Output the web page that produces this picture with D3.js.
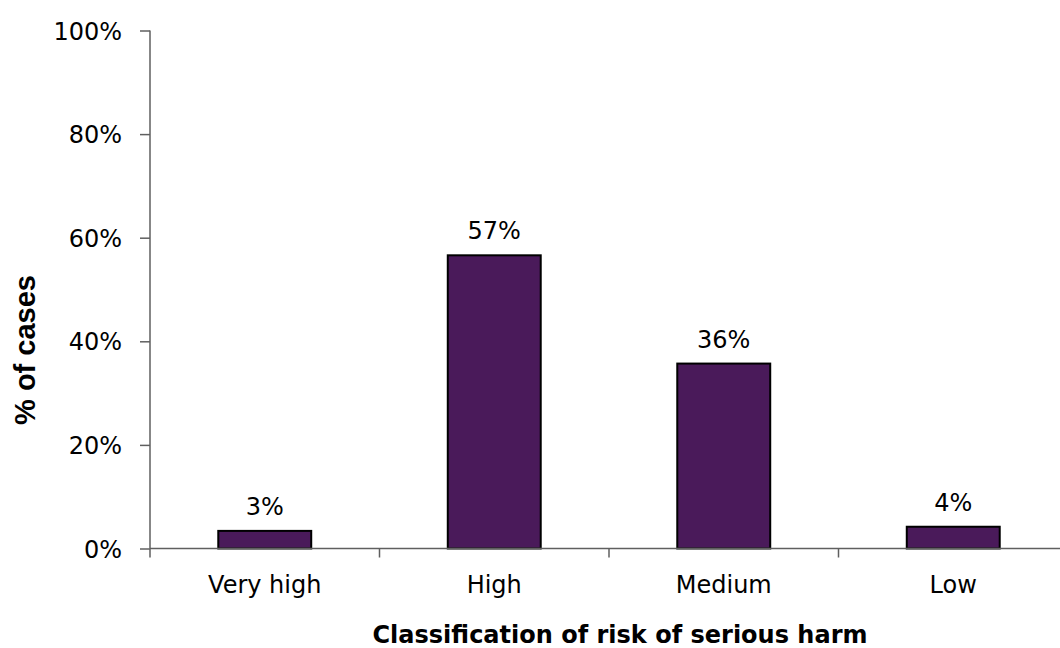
<!DOCTYPE html>
<html>
<head>
<meta charset="utf-8">
<script src="https://cdn.jsdelivr.net/npm/d3@7"></script>
<style>
  html, body { margin: 0; padding: 0; background: #fff; }
  svg { display: block; }
</style>
</head>
<body>
<svg id="chart" width="1060" height="648"></svg>
<script>
const categories = ["Very high", "High", "Medium", "Low"];
const values = [3.4, 56.6, 35.7, 4.2];
const valueLabels = ["3%", "57%", "36%", "4%"];
const yTicks = [0, 20, 40, 60, 80, 100];
const xTitle = "Classification of risk of serious harm";
const yTitle = "% of cases";

const svg = d3.select("#chart");
const mLeft = 150, mRight = 1068, mTop = 30.5, mBottom = 548.5;

const x = d3.scaleBand().domain(categories).range([mLeft, mRight]).paddingInner(0.595).paddingOuter(0.2975);
const xBounds = d3.scaleLinear().domain([0, categories.length]).range([mLeft, mRight]);
const y = d3.scaleLinear().domain([0, 100]).range([mBottom, mTop]);

const axisColor = "#5f5f5f";
const tickFont = "'DejaVu Sans', Verdana, sans-serif";

// Y axis
const yAxis = svg.append("g").attr("transform", `translate(${mLeft},0)`)
  .call(d3.axisLeft(y).tickValues(yTicks).tickSize(10).tickPadding(18).tickFormat(d => d + "%"));
yAxis.select(".domain").attr("stroke", axisColor).attr("stroke-width", 1.5).attr("d", `M0,${mTop}V${mBottom}`);
yAxis.selectAll(".tick line").attr("stroke", axisColor).attr("stroke-width", 1.5);
yAxis.selectAll(".tick text").attr("font-family", tickFont).attr("font-size", 24).attr("fill", "#000").attr("dy", "0.36em");

// Bars
svg.append("g").selectAll("rect").data(categories).join("rect")
  .attr("x", d => x(d))
  .attr("width", x.bandwidth())
  .attr("y", (d, i) => y(values[i]))
  .attr("height", (d, i) => y(0) - y(values[i]))
  .attr("fill", "#4a1a5a")
  .attr("stroke", "#000")
  .attr("stroke-width", 2);

// X axis line and boundary ticks
const xg = svg.append("g");
xg.append("line").attr("x1", mLeft).attr("x2", 1060).attr("y1", mBottom).attr("y2", mBottom)
  .attr("stroke", axisColor).attr("stroke-width", 1.5);
xg.selectAll("line.bt").data(d3.range(categories.length + 1)).join("line").attr("class", "bt")
  .attr("x1", d => xBounds(d)).attr("x2", d => xBounds(d))
  .attr("y1", mBottom).attr("y2", mBottom + 9)
  .attr("stroke", axisColor).attr("stroke-width", 1.5);

// X tick labels
svg.append("g").selectAll("text").data(categories).join("text")
  .attr("x", d => x(d) + x.bandwidth() / 2)
  .attr("y", 593)
  .attr("text-anchor", "middle")
  .attr("font-family", tickFont).attr("font-size", 24).attr("fill", "#000")
  .text(d => d);

// Value labels
svg.append("g").selectAll("text").data(categories).join("text")
  .attr("x", d => x(d) + x.bandwidth() / 2)
  .attr("y", (d, i) => y(values[i]) - 16)
  .attr("text-anchor", "middle")
  .attr("font-family", tickFont).attr("font-size", 24).attr("fill", "#000")
  .text((d, i) => valueLabels[i]);

// X title
svg.append("text")
  .attr("x", 620).attr("y", 643)
  .attr("text-anchor", "middle")
  .attr("font-family", tickFont).attr("font-weight", "bold").attr("font-size", 25)
  .attr("textLength", 495).attr("lengthAdjust", "spacingAndGlyphs")
  .attr("fill", "#000")
  .text(xTitle);

// Y title
svg.append("text")
  .attr("transform", "translate(35,350) rotate(-90)")
  .attr("text-anchor", "middle")
  .attr("font-family", "'Liberation Sans', Arial, sans-serif").attr("font-weight", "bold").attr("font-size", 29)
  .attr("fill", "#000")
  .text(yTitle);
</script>
</body>
</html>
